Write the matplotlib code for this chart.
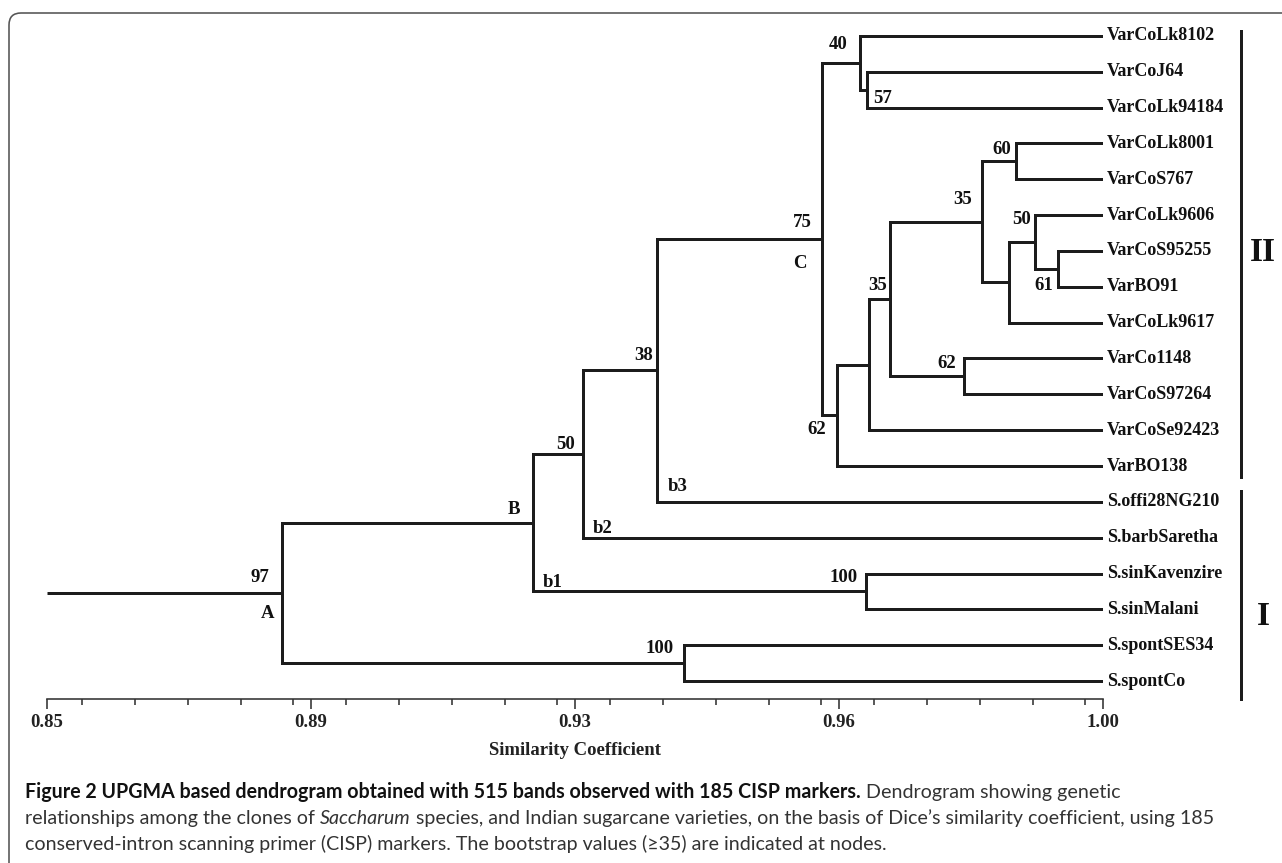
import matplotlib
matplotlib.use("Agg")
import matplotlib.pyplot as plt
from matplotlib.patches import FancyBboxPatch
from matplotlib.ticker import MultipleLocator
from matplotlib.transforms import blended_transform_factory

# ---------------- data ----------------
leaves = ["VarCoLk8102", "VarCoJ64", "VarCoLk94184", "VarCoLk8001", "VarCoS767",
          "VarCoLk9606", "VarCoS95255", "VarBO91", "VarCoLk9617", "VarCo1148",
          "VarCoS97264", "VarCoSe92423", "VarBO138", "S.offi28NG210",
          "S.barbSaretha", "S.sinKavenzire", "S.sinMalani", "S.spontSES34",
          "S.spontCo"]

node_names = ["n57", "n40", "n60", "n61", "n50", "n50b", "n35u", "n62a", "n35l",
              "nSe", "n62", "C", "n38", "n50B", "n100a", "B", "n100b", "A"]
merge_left = ["VarCoJ64", "VarCoLk8102", "VarCoLk8001", "VarCoS95255", "VarCoLk9606",
              "n50", "n60", "VarCo1148", "n35u", "n35l", "nSe", "n40", "C", "n38",
              "S.sinKavenzire", "n50B", "S.spontSES34", "B"]
merge_right = ["VarCoLk94184", "n57", "VarCoS767", "VarBO91", "n61", "VarCoLk9617",
               "n50b", "VarCoS97264", "n62a", "VarCoSe92423", "VarBO138", "n62",
               "S.offi28NG210", "S.barbSaretha", "S.sinMalani", "n100a",
               "S.spontCo", "n100b"]
merge_height = [0.9665, 0.9655, 0.9877, 0.9936, 0.9904, 0.9867, 0.9828, 0.9803,
                0.9698, 0.9668, 0.9622, 0.9601, 0.9367, 0.9261, 0.9663, 0.9190,
                0.9405, 0.8834]

# node annotations: (node, text)
node_labels = [("n40", "40"), ("n57", "57"), ("C", "75"), ("C", "C"),
               ("n35u", "35"), ("n60", "60"), ("n50", "50"), ("n61", "61"),
               ("n35l", "35"), ("n62a", "62"), ("n62", "62"), ("n38", "38"),
               ("n38", "b3"), ("n50B", "50"), ("n50B", "b2"), ("B", "B"),
               ("B", "b1"), ("A", "97"), ("A", "A"), ("n100a", "100"),
               ("n100b", "100")]

xtick_pos = [0.85, 0.8875, 0.925, 0.9625, 1.00]
xtick_labels = ["0.85", "0.89", "0.93", "0.96", "1.00"]
x_min, x_max = 0.85, 1.00

group_names = ["II", "I"]
group_first = ["VarCoLk8102", "S.offi28NG210"]
group_last = ["VarBO138", "S.spontCo"]

caption_bold = "Figure 2 UPGMA based dendrogram obtained with 515 bands observed with 185 CISP markers."
caption_l1 = " Dendrogram showing genetic"
caption_l2a = "relationships among the clones of "
caption_l2i = "Saccharum"
caption_l2b = " species, and Indian sugarcane varieties, on the basis of Dice\u2019s similarity coefficient, using 185"
caption_l3 = "conserved-intron scanning primer (CISP) markers. The bootstrap values (\u226535) are indicated at nodes."

# ---------------- styling ----------------
W, H = 1282, 863
DPI = 100
PX = 72.0 / DPI  # points per pixel
LINE = "#1c1c1c"
SERIF = "Liberation Serif"

# label offsets in pixels relative to (node x, anchor y); anchor: top/mid/bot
label_style = {
    ("n40", "40"): ("top", -22, 9), ("n57", "57"): ("bot", 15, -9),
    ("C", "75"): ("mid", -20, -17), ("C", "C"): ("mid", -22, 24.5),
    ("n35u", "35"): ("mid", -19.5, -22), ("n60", "60"): ("top", -15, 6),
    ("n50", "50"): ("top", -14, 4), ("n61", "61"): ("bot", -14, -1),
    ("n35l", "35"): ("mid", -13, -14), ("n62a", "62"): ("top", -18, 5),
    ("n62", "62"): ("mid", -20, 14), ("n38", "38"): ("mid", -14, -15),
    ("n38", "b3"): ("bot", 20, -15), ("n50B", "50"): ("mid", -17, -9.5),
    ("n50B", "b2"): ("bot", 20, -9), ("B", "B"): ("mid", -18.5, -13),
    ("B", "b1"): ("bot", 20, -9), ("A", "97"): ("mid", -22, -15.5),
    ("A", "A"): ("mid", -15, 20.5), ("n100a", "100"): ("top", -22.5, 4),
    ("n100b", "100"): ("top", -24.5, 3),
}

fig = plt.figure(figsize=(W / DPI, H / DPI), dpi=DPI)
fig.patch.set_facecolor("white")

# rounded frame
frame = FancyBboxPatch((9 / DPI, -20 / DPI), (W + 40 - 9) / DPI, (H - 13 + 20) / DPI,
                       boxstyle="round,pad=0,rounding_size=0.12",
                       transform=fig.dpi_scale_trans, facecolor="none",
                       edgecolor="#555555", linewidth=1.6 * PX, zorder=0)
fig.add_artist(frame)

ax_left, ax_right = 47, 1103
ax_top, ax_bot = 18, 699
ax = fig.add_axes([ax_left / W, 1 - ax_bot / H, (ax_right - ax_left) / W,
                   (ax_bot - ax_top) / H])
ax.set_xlim(x_min, x_max)
ax.set_ylim(len(leaves) - 0.5, -0.5)
ax.patch.set_alpha(0)

# compute positions
ypos = {name: i for i, name in enumerate(leaves)}
xpos = {name: x_max for name in leaves}
span = {}
for n, l, r, h in zip(node_names, merge_left, merge_right, merge_height):
    yl, yr = ypos[l], ypos[r]
    ax.plot([xpos[l], h, h, xpos[r]], [yl, yl, yr, yr], color=LINE,
            lw=3 * PX, solid_joinstyle="miter", solid_capstyle="butt", zorder=3)
    ypos[n] = (yl + yr) / 2
    xpos[n] = h
    span[n] = (min(yl, yr), max(yl, yr))

root = node_names[-1]
ax.plot([x_min, xpos[root]], [ypos[root], ypos[root]], color=LINE, lw=3 * PX,
        solid_capstyle="butt", zorder=3)

# node labels
for (node, txt) in node_labels:
    where, dx, dy = label_style[(node, txt)]
    if where == "top":
        yy = span[node][0]
    elif where == "bot":
        yy = span[node][1]
    else:
        yy = ypos[node]
    ax.annotate(txt, xy=(xpos[node], yy), xytext=(dx * PX, -dy * PX),
                textcoords="offset points", ha="center", va="center",
                fontsize=13.5, fontweight="bold", family=SERIF, color="#111111",
                zorder=4)

# leaf labels
for i, name in enumerate(leaves):
    ax.annotate(name, xy=(x_max, i), xytext=(4 * PX, 0), textcoords="offset points",
                ha="left", va="center", fontsize=13, fontweight="bold",
                family=SERIF, color="#111111", annotation_clip=False)

# group brackets
tr = blended_transform_factory(ax.transAxes, ax.transData)
bx = (1241 - ax_left) / (ax_right - ax_left)
tx = (1263 - ax_left) / (ax_right - ax_left)
bracket_ext = [(-0.14, 0.3), (-0.3, 0.5)]
for g, first, last, (e0, e1) in zip(group_names, group_first, group_last, bracket_ext):
    y0, y1 = ypos[first] + e0, ypos[last] + e1
    ax.plot([bx, bx], [y0, y1], color=LINE, lw=3 * PX, transform=tr, clip_on=False)
ax.text(tx, 6.03, group_names[0], transform=tr, ha="center", va="center",
        fontsize=24, fontweight="bold", family=SERIF, color="#111111")
ax.text(tx, 16.2, group_names[1], transform=tr, ha="center", va="center",
        fontsize=24, fontweight="bold", family=SERIF, color="#111111")

# axis
for s in ["top", "left", "right"]:
    ax.spines[s].set_visible(False)
ax.spines["bottom"].set_color("#333333")
ax.spines["bottom"].set_linewidth(1.6 * PX)
ax.set_yticks([])
ax.set_xticks(xtick_pos)
ax.set_xticklabels(xtick_labels, fontsize=13.5, fontweight="bold", family=SERIF,
                   color="#222222")
ax.xaxis.set_minor_locator(MultipleLocator(0.0075))
ax.tick_params(axis="x", which="major", direction="out", length=10 * PX,
               width=1.6 * PX, color="#333333", pad=5 * PX)
ax.tick_params(axis="x", which="minor", direction="out", length=6 * PX,
               width=1.6 * PX, color="#333333")
ax.set_xlabel("Similarity Coefficient", fontsize=13.5, fontweight="bold",
              family=SERIF, color="#222222", labelpad=11 * PX)

# caption
CAP = "Lato"
renderer = fig.canvas.get_renderer()
cap_size = 13.0


def place_line(parts, y_px, x_px=25):
    x = x_px
    arts = []
    for txt, weight, style, col in parts:
        t = fig.text(x / W, 1 - y_px / H, txt, ha="left", va="baseline",
                     fontsize=cap_size, fontweight=weight, fontstyle=style,
                     family=CAP, color=col)
        bb = t.get_window_extent(renderer)
        x = bb.x1
        arts.append(t)
    return arts, x


# fit caption line 2 to target width
probe = fig.text(0, 0, caption_l2a + caption_l2i + caption_l2b, fontsize=cap_size, family=CAP)
w = probe.get_window_extent(renderer).width
probe.remove()
cap_size = cap_size * (1211 - 25) / w

black = "#111111"
grey = "#333333"
place_line([(caption_bold, "bold", "normal", black),
            (caption_l1, "normal", "normal", grey)], 798)
place_line([(caption_l2a, "normal", "normal", grey),
            (caption_l2i, "normal", "italic", grey),
            (caption_l2b, "normal", "normal", grey)], 824)
place_line([(caption_l3, "normal", "normal", grey)], 850)

fig.savefig("out.png", dpi=DPI)
